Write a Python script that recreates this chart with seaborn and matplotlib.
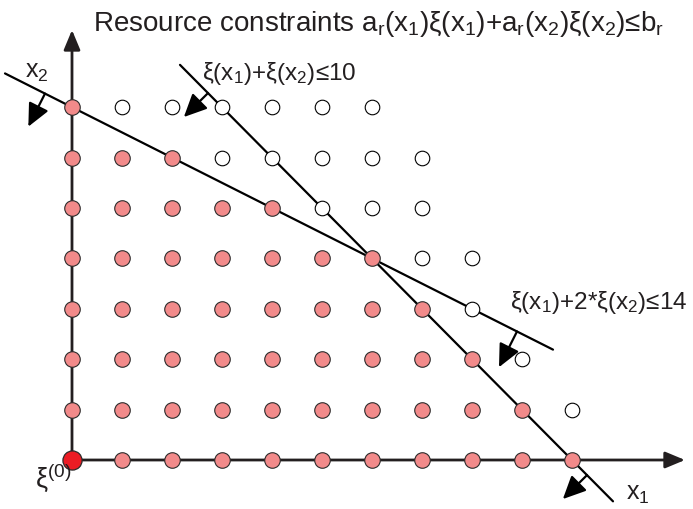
import numpy as np
import pandas as pd
import matplotlib
matplotlib.use("Agg")
import matplotlib.pyplot as plt
import seaborn as sns

# ---- data ----
x2_levels = [0, 1, 2, 3, 4, 5, 6, 7]
feasible_last_x1 = [10, 9, 8, 7, 6, 4, 2, 0]        # filled points: x1 = 0..last
open_first_x1 = [None, 10, 9, 8, 7, 5, 3, 1]        # open points per row
open_last_x1 = [None, 10, 9, 8, 8, 7, 7, 6]
origin = [0, 0]

# constraints a1*x1 + a2*x2 <= b
con_a1 = [1, 1]
con_a2 = [1, 2]
con_b = [10, 14]
con_labels = ["ξ(x$_1$)+ξ(x$_2$)≤10", "ξ(x$_1$)+2*ξ(x$_2$)≤14"]
con_x1_range = [[2.16, 10.82], [-1.34, 9.62]]
arrow_x1 = [[2.72, 10.3], [-0.54, 8.9]]   # where the feasibility arrows leave each line

title = "Resource constraints a$_\\mathrm{r}$(x$_1$)ξ(x$_1$)+a$_\\mathrm{r}$(x$_2$)ξ(x$_2$)≤b$_\\mathrm{r}$"

# ---- build tables ----
fx1, fx2, ox1, ox2 = [], [], [], []
for i, lv in enumerate(x2_levels):
    for a in range(0, feasible_last_x1[i] + 1):
        fx1.append(a); fx2.append(lv)
    if open_first_x1[i] is not None:
        for a in range(open_first_x1[i], open_last_x1[i] + 1):
            ox1.append(a); ox2.append(lv)
feas = pd.DataFrame({"x1": fx1, "x2": fx2})
infeas = pd.DataFrame({"x1": ox1, "x2": ox2})

sns.set_style("white")
plt.rcParams["font.family"] = ["Liberation Sans", "DejaVu Sans"]
plt.rcParams["mathtext.fontset"] = "custom"
plt.rcParams["mathtext.rm"] = "Liberation Sans"
plt.rcParams["mathtext.it"] = "Liberation Sans"
plt.rcParams["mathtext.default"] = "rm"

W, H = 693, 509
fig = plt.figure(figsize=(W / 100, H / 100), dpi=100)
ax = fig.add_axes([0, 0, 1, 1])
SX, SY, OX, OY = 50.0, 50.4, 72.0, 460.0
ax.set_xlim(-OX / SX, (W - OX) / SX)
ax.set_ylim((OY - H) / SY, OY / SY)
ax.axis("off")

def fp(x, y):
    return (x / W, 1 - y / H)

dark = "#231f20"

# axes with arrows
for tip in [(0, (OY - 30) / SY), ((685 - OX) / SX, 0)]:
    ax.annotate("", xy=tip, xytext=(0, 0),
                arrowprops=dict(arrowstyle="-|>,head_length=0.6,head_width=0.25",
                                lw=2.0, color=dark, mutation_scale=20,
                                shrinkA=0, shrinkB=0),
                zorder=1)

# constraint lines and feasibility arrows
arrow_len_px = [[34, 34], [37, 40]]
for k in range(2):
    xs = np.array(con_x1_range[k])
    ys = (con_b[k] - con_a1[k] * xs) / con_a2[k]
    line_df = pd.DataFrame({"x1": xs, "x2": ys})
    sns.lineplot(data=line_df, x="x1", y="x2", color="black", lw=1.6,
                 ax=ax, zorder=2, sort=False)
    nx, ny = -con_a1[k] / SX, -con_a2[k] / SY
    nrm = np.hypot(nx, ny)
    nx, ny = nx / nrm, ny / nrm
    for j, ax1 in enumerate(arrow_x1[k]):
        ax2 = (con_b[k] - con_a1[k] * ax1) / con_a2[k]
        L = arrow_len_px[k][j]
        tip = (ax1 + nx * L / SX, ax2 + ny * L / SY)
        ax.annotate("", xy=tip, xytext=(ax1, ax2),
                    arrowprops=dict(arrowstyle="-|>,head_length=0.7,head_width=0.33",
                                    lw=1.6, color="black", mutation_scale=20,
                                    shrinkA=0, shrinkB=0), zorder=2)

# points
sns.scatterplot(data=infeas, x="x1", y="x2", s=110, color="white",
                edgecolor="black", linewidth=0.8, ax=ax, zorder=3)
sns.scatterplot(data=feas, x="x1", y="x2", s=125, color="#f28a8a",
                edgecolor="#2b2b2b", linewidth=0.8, ax=ax, zorder=4)
sns.scatterplot(x=[origin[0]], y=[origin[1]], s=190, color="#ec1c24",
                edgecolor="#2b2b2b", linewidth=0.9, ax=ax, zorder=5)

# texts
fig.text(*fp(379, 31), title, fontsize=20, ha="center", va="baseline", color=dark)
fig.text(*fp(202, 80), con_labels[0], fontsize=17.5, ha="left", va="baseline", color=dark)
fig.text(*fp(510, 309), con_labels[1], fontsize=17.5, ha="left", va="baseline", color=dark)
fig.text(*fp(25, 78), "x$_2$", fontsize=18, ha="left", va="baseline", color=dark)
fig.text(*fp(626, 500), "x$_1$", fontsize=18, ha="left", va="baseline", color=dark)
fig.text(*fp(35, 487), "ξ$^{(0)}$", fontsize=19.5, ha="left", va="baseline", color=dark)

fig.savefig("out.png", dpi=100)
